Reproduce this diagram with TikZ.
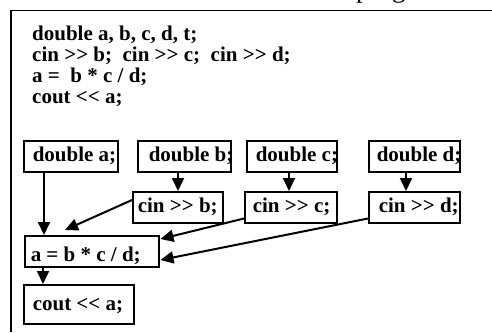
\documentclass[tikz,border=0pt]{standalone}
\usepackage{fontspec}
\setmainfont{Liberation Serif}
\usetikzlibrary{arrows.meta}
\newcommand\boxtxt[3]{\makebox[#1][l]{\hspace{#2}#3}}
\newcommand\shr{>\kern0pt>}
\newcommand\shl{<\kern0pt<}
\begin{document}
\begin{tikzpicture}[x=1pt,y=-1pt,
  box/.style={draw, line width=1.5pt, anchor=north west, inner sep=0pt,
    minimum height=31pt, text height=16pt, text depth=5pt,
    font=\fontsize{21}{21}\selectfont\bfseries},
  code/.style={anchor=base west, inner sep=0pt, font=\fontsize{21}{21}\selectfont\bfseries},
  arr/.style={line width=2pt, -{Triangle[length=13pt,width=12pt]}}]
\useasboundingbox (0,0) rectangle (492,332);
\draw[line width=1.5pt] (11,332) -- (11,10.5) -- (492,10.5);
\node[anchor=base west, inner sep=0pt, font=\fontsize{27}{27}\selectfont] (title) at (356,-2) {program};
\node[code] (l1) at (32,40) {double a, b, c, d, t;};
\node[code] (l2) at (32,61) {cin \shr{} b;\ \ cin \shr{} c;\ \ cin \shr{} d;};
\node[code] (l3) at (32,82) {a =\ \ b * c / d;};
\node[code] (l4) at (32,103) {cout \shl{} a;};

\node[box] (da) at (23,140) {\boxtxt{94pt}{9pt}{double a;}};
\node[box] (db) at (137,140) {\boxtxt{93pt}{11pt}{double b;}};
\node[box] (dc) at (246,140) {\boxtxt{90pt}{9pt}{double c;}};
\node[box] (dd) at (368,140) {\boxtxt{91pt}{8pt}{double d;}};
\node[box] (cb) at (132,191) {\boxtxt{90pt}{5pt}{cin \shr{} b;}};
\node[box] (cc) at (244,191) {\boxtxt{92pt}{8pt}{cin \shr{} c;}};
\node[box] (cd) at (368,191) {\boxtxt{91pt}{10pt}{cin \shr{} d;}};
\node[box, text height=26pt, text depth=5pt] (asg) at (24,235) {\boxtxt{134pt}{6pt}{a = b * c / d;}};
\node[box, minimum height=39pt, text height=26pt, text depth=13pt] (co) at (23,284) {\boxtxt{110pt}{9pt}{cout \shl{} a;}};

\draw[arr] ([xshift=21pt]da.south west) -- ([xshift=20pt]asg.north west);
\draw[arr] ([xshift=41pt]db.south west) -- ([xshift=46pt]cb.north west);
\draw[arr] ([xshift=43pt]dc.south west) -- ([xshift=45pt]cc.north west);
\draw[arr] ([xshift=38pt]dd.south west) -- ([xshift=38pt]cd.north west);
\draw[arr] ([yshift=-9pt]cb.north west) -- ([xshift=41pt,yshift=5pt]asg.north west);
\draw[arr] ([yshift=5pt]cc.south west) -- ([xshift=1pt,yshift=-4pt]asg.north east);
\draw[arr] ([yshift=5pt]cd.south west) -- ([xshift=1pt,yshift=-25pt]asg.north east);
\draw[arr] ([xshift=19pt]asg.south west) -- ([xshift=20pt]co.north west);
\end{tikzpicture}
\end{document}
